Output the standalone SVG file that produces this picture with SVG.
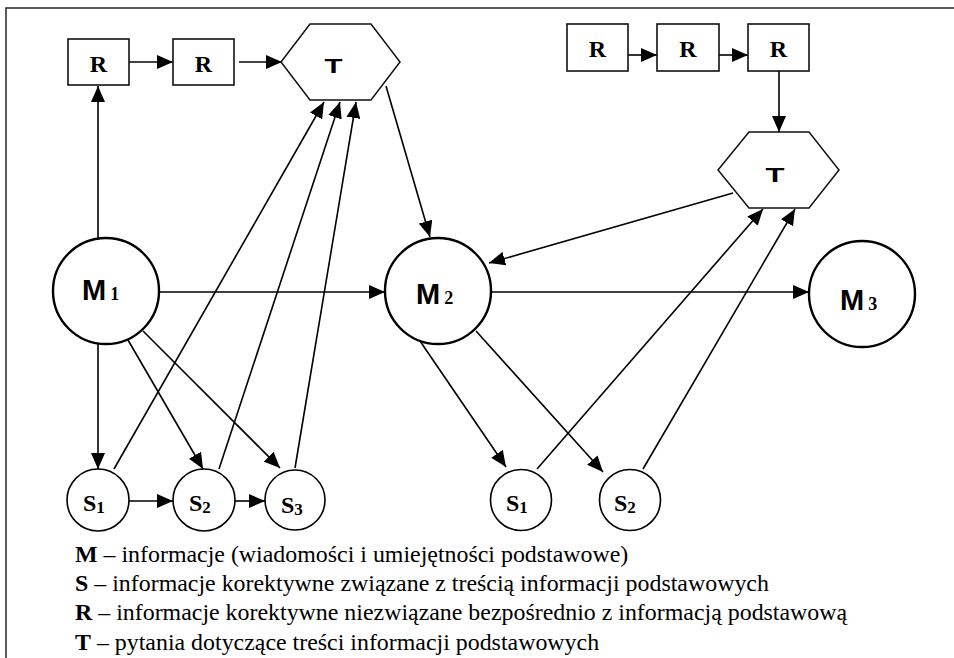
<svg xmlns="http://www.w3.org/2000/svg" width="954" height="658" viewBox="0 0 954 658">
  <style>
    .frame { fill: none; stroke: #333; stroke-width: 1.6; }
    .box { fill: #fff; stroke: #111; stroke-width: 1.6; }
    .hex { fill: #fff; stroke: #111; stroke-width: 1.5; }
    .big { fill: #fff; stroke: #000; stroke-width: 2.4; }
    .small { fill: #fff; stroke: #000; stroke-width: 1.6; }
    .edge { fill: none; stroke: #000; stroke-width: 1.6; marker-end: url(#arrow); }
    .serif { font-family: "Liberation Serif", "Times New Roman", serif; fill: #000; }
    .sans { font-family: "Liberation Sans", Arial, sans-serif; font-weight: bold; fill: #000; }
    .rlab { font-size: 24px; font-weight: bold; text-anchor: middle; }
    .slab { font-size: 24px; font-weight: bold; }
    .sub { font-size: 17px; font-weight: bold; }
    .legend { font-size: 23.9px; }
  </style>
  <defs>
    <marker id="arrow" markerUnits="userSpaceOnUse" markerWidth="17" markerHeight="14" refX="16" refY="7" orient="auto">
      <path d="M0,0 L16,7 L0,14 z" fill="#000"/>
    </marker>
  </defs>

  <!-- outer frame (continues past the right and bottom edges) -->
  <rect class="frame" x="6" y="8" width="960" height="670"/>

  <!-- connectors -->
  <g id="connectors">
    <!-- left cluster -->
    <line class="edge" x1="98" y1="238" x2="98" y2="86"/>
    <line class="edge" x1="129" y1="62" x2="173" y2="62"/>
    <line class="edge" x1="239" y1="62" x2="282" y2="62"/>
    <line class="edge" x1="159" y1="292" x2="385" y2="292"/>
    <line class="edge" x1="98" y1="344" x2="98" y2="469"/>
    <line class="edge" x1="128" y1="340" x2="203" y2="469"/>
    <line class="edge" x1="143" y1="331" x2="280" y2="468"/>
    <line class="edge" x1="129" y1="501" x2="173" y2="501"/>
    <line class="edge" x1="235" y1="501" x2="265" y2="501"/>
    <line class="edge" x1="114" y1="469" x2="324" y2="102"/>
    <line class="edge" x1="219" y1="469" x2="340" y2="102"/>
    <line class="edge" x1="295" y1="468" x2="356" y2="102"/>
    <line class="edge" x1="386" y1="86" x2="430" y2="237"/>
    <!-- right cluster -->
    <line class="edge" x1="628" y1="55" x2="657" y2="55"/>
    <line class="edge" x1="719" y1="55" x2="748" y2="55"/>
    <line class="edge" x1="779" y1="71" x2="779" y2="132"/>
    <line class="edge" x1="733" y1="193" x2="489" y2="263"/>
    <line class="edge" x1="492" y1="292" x2="809" y2="292"/>
    <line class="edge" x1="420" y1="341" x2="506" y2="467"/>
    <line class="edge" x1="476" y1="331" x2="603" y2="472"/>
    <line class="edge" x1="537" y1="469" x2="763" y2="209"/>
    <line class="edge" x1="643" y1="469" x2="795" y2="209"/>
  </g>

  <!-- R boxes, left chain -->
  <g id="R-left-1">
    <rect class="box" x="68" y="39" width="61" height="46"/>
    <text class="serif rlab" x="98.5" y="72">R</text>
  </g>
  <g id="R-left-2">
    <rect class="box" x="173" y="39" width="61" height="46"/>
    <text class="serif rlab" x="203.5" y="72">R</text>
  </g>
  <g id="T-left">
    <polygon class="hex" points="281,62 310,24 371,24 400,62 371,100 310,100"/>
    <text class="sans" x="333.5" y="73" font-size="20" text-anchor="middle" textLength="18" lengthAdjust="spacingAndGlyphs">T</text>
  </g>

  <!-- R boxes, right chain -->
  <g id="R-right-1">
    <rect class="box" x="567" y="24" width="61" height="47"/>
    <text class="serif rlab" x="597.5" y="57">R</text>
  </g>
  <g id="R-right-2">
    <rect class="box" x="657" y="24" width="62" height="47"/>
    <text class="serif rlab" x="688" y="57">R</text>
  </g>
  <g id="R-right-3">
    <rect class="box" x="748" y="24" width="61" height="47"/>
    <text class="serif rlab" x="778.5" y="57">R</text>
  </g>
  <g id="T-right">
    <polygon class="hex" points="718,170 749,132 809,132 839,170 809,208 749,208"/>
    <text class="sans" x="775" y="182" font-size="21" text-anchor="middle" textLength="19" lengthAdjust="spacingAndGlyphs">T</text>
  </g>

  <!-- main information nodes -->
  <g id="M1">
    <circle class="big" cx="106" cy="291" r="53"/>
    <text x="82" y="300"><tspan class="sans" font-size="29">M</tspan><tspan class="serif" font-weight="bold" font-size="18" dx="4">1</tspan></text>
  </g>
  <g id="M2">
    <circle class="big" cx="438" cy="291" r="53"/>
    <text x="416" y="304"><tspan class="sans" font-size="29">M</tspan><tspan class="serif" font-weight="bold" font-size="18" dx="4">2</tspan></text>
  </g>
  <g id="M3">
    <circle class="big" cx="862" cy="294" r="53"/>
    <text x="840" y="310"><tspan class="sans" font-size="29">M</tspan><tspan class="serif" font-weight="bold" font-size="18" dx="4">3</tspan></text>
  </g>

  <!-- corrective information nodes -->
  <g id="S1-left">
    <circle class="small" cx="98" cy="500" r="31"/>
    <text class="serif" x="83" y="511"><tspan class="slab">S</tspan><tspan class="sub" dy="2">1</tspan></text>
  </g>
  <g id="S2-left">
    <circle class="small" cx="204" cy="500" r="31"/>
    <text class="serif" x="189" y="511"><tspan class="slab">S</tspan><tspan class="sub" dy="2">2</tspan></text>
  </g>
  <g id="S3-left">
    <circle class="small" cx="295" cy="500" r="30"/>
    <text class="serif" x="281" y="513"><tspan class="slab">S</tspan><tspan class="sub" dy="2">3</tspan></text>
  </g>
  <g id="S1-right">
    <circle class="small" cx="521" cy="500" r="30.5"/>
    <text class="serif" x="506" y="511"><tspan class="slab">S</tspan><tspan class="sub" dy="2">1</tspan></text>
  </g>
  <g id="S2-right">
    <circle class="small" cx="630" cy="500" r="30.5"/>
    <text class="serif" x="614" y="511"><tspan class="slab">S</tspan><tspan class="sub" dy="2">2</tspan></text>
  </g>

  <!-- legend -->
  <g id="legend" class="serif legend">
    <text x="75" y="562"><tspan font-weight="bold">M</tspan> – informacje (wiadomości i umiejętności podstawowe)</text>
    <text x="75" y="591"><tspan font-weight="bold">S</tspan> – informacje korektywne związane z treścią informacji podstawowych</text>
    <text x="75" y="620"><tspan font-weight="bold">R</tspan> – informacje korektywne niezwiązane bezpośrednio z informacją podstawową</text>
    <text x="75" y="650"><tspan font-weight="bold">T</tspan> – pytania dotyczące treści informacji podstawowych</text>
  </g>
</svg>
